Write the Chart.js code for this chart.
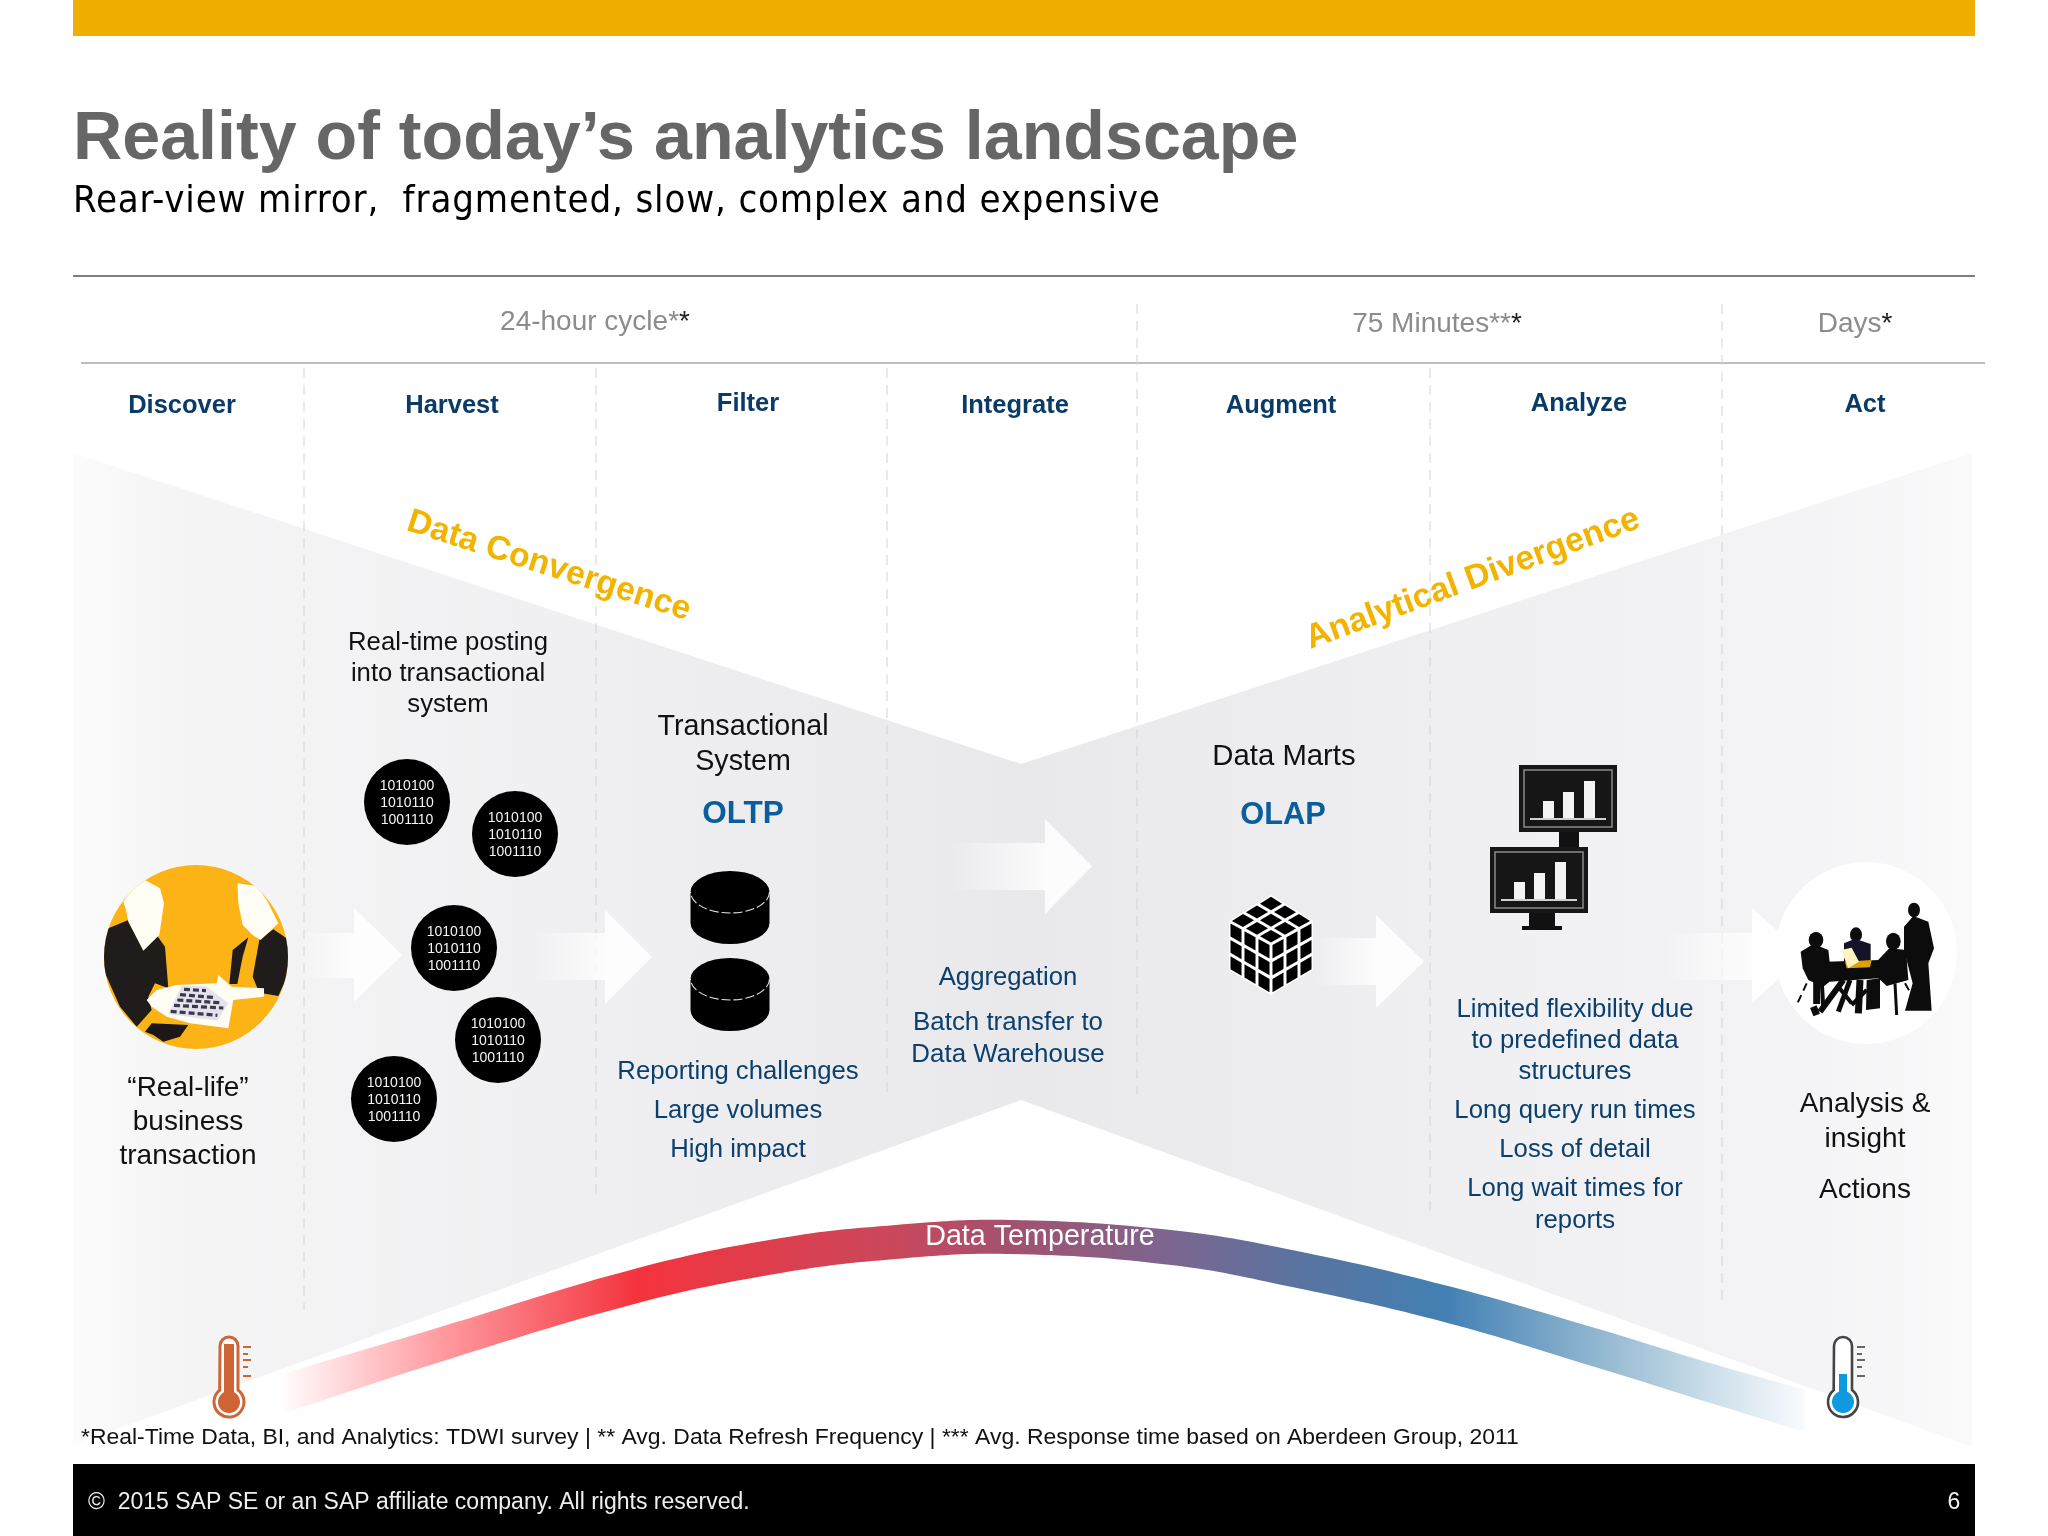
<!DOCTYPE html>
<html><head><meta charset="utf-8">
<style>html,body{margin:0;padding:0;background:#fff}canvas{display:block}</style>
<script src="https://cdn.jsdelivr.net/npm/chart.js@4/dist/chart.umd.min.js"></script>
</head><body><canvas id="c" width="2048" height="1536"></canvas>
<script>
// ---- text content ----
const titleText = "Reality of today’s analytics landscape";
const subtitleText = "Rear-view mirror,  fragmented, slow, complex and expensive";
const stageLabels = ["Discover","Harvest","Filter","Integrate","Augment","Analyze","Act"];
const binaryLines = ["1010100","1010110","1001110"];
const footnoteText = "*Real-Time Data, BI, and Analytics: TDWI survey | ** Avg. Data Refresh Frequency | *** Avg. Response time based on Aberdeen Group, 2011";
const footerText = "©  2015 SAP SE or an SAP affiliate company. All rights reserved.";
// ---- marks ----
const funnelX = [73,1021,1972];
const funnelTopY = [453,764,453];
const funnelBottomY = [1445,1100,1447];
const bandTopX = [279,437,638,781,896,1011,1171,1292,1444,1595,1717,1817];
const bandTopY = [1375,1328,1268,1238,1225,1220,1230,1250,1285,1328,1365,1393];
const bandBottomX = [279,437,638,781,896,1011,1171,1292,1444,1595,1717,1805];
const bandBottomY = [1415,1363,1303,1273,1259,1254,1265,1287,1322,1367,1405,1432];
const binaryX = [407,515,454,498,394];
const binaryY = [802,834,948,1040,1099];
const dashX = [304,596,887,1137,1430,1722];
const dashTop = [368,368,368,304,368,304];
const dashBottom = [1310,1200,1094,1094,1216,1307];

const T = (t,x,y,size,color,o={}) => Object.assign({t,x,y,size,color},o);
const NAVY="#0b3f6e", BLUE="#0a5e9c", INK="#111";
const stageAt=[[182,413],[452,413],[748,411],[1015,413],[1281,413],[1579,411],[1865,412]];
const texts=[
 T(titleText,73,159,68.2,"#666666",{b:1,a:"left"}),
 ...stageLabels.map((s,i)=>T(s,stageAt[i][0],stageAt[i][1],25.5,"#0a3a66",{b:1})),
 T("Real-time posting",448,650,25.7,INK),T("into transactional",448,681,25.7,INK),T("system",448,712,25.7,INK),
 T("Transactional",743,735,28.7,INK),T("System",743,770,28.7,INK),
 T("OLTP",743,823,31.5,BLUE,{b:1}),
 T("Data Marts",1284,765,29.3,INK),T("OLAP",1283,824,30.8,BLUE,{b:1}),
 T("Reporting challenges",738,1079,25.7,NAVY),T("Large volumes",738,1118,25.7,NAVY),T("High impact",738,1157,25.7,NAVY),
 T("Aggregation",1008,985,25.7,NAVY),T("Batch transfer to",1008,1030,25.9,NAVY),T("Data Warehouse",1008,1062,25.9,NAVY),
 T("Limited flexibility due",1575,1017,25.7,NAVY),T("to predefined data",1575,1048,25.7,NAVY),T("structures",1575,1079,25.7,NAVY),
 T("Long query run times",1575,1118,25.7,NAVY),T("Loss of detail",1575,1157,25.7,NAVY),T("Long wait times for",1575,1196,25.7,NAVY),T("reports",1575,1228,25.7,NAVY),
 T("“Real-life”",188,1096,28,INK),T("business",188,1130,28,INK),T("transaction",188,1164,28,INK),
 T("Analysis &",1865,1112,28,INK),T("insight",1865,1147,28,INK),T("Actions",1865,1198,28,INK),
 T("Data Temperature",1040,1245,28.7,"#ffffff"),
 T(footnoteText,81,1444,22.95,"#111",{a:"left"}),
 T(footerText,88,1509,23,"#eeeeee",{a:"left"}),
 T("6",1954,1509,23,"#eeeeee",{a:"center"}),
];
const tailTexts=[["24-hour cycle*","*",595,330],["75 Minutes**","*",1437,332],["Days","*",1855,332]];
const rotated=[["Data Convergence",546,575,17.8,33.7],["Analytical Divergence",1476,588,-20.2,34]];

const ORANGE="#f2b400";
const L=(data,o)=>Object.assign({type:'line',data,showLine:true,pointRadius:0,borderWidth:0,fill:false,tension:0},o);
const zip=(a,b)=>a.map((v,i)=>({x:v,y:b[i]}));
function hGrad(chart,x0,x1,stops){
  if(!chart.chartArea) return "rgba(0,0,0,0)";
  const g=chart.ctx.createLinearGradient(chart.scales.x.getPixelForValue(x0),0,chart.scales.x.getPixelForValue(x1),0);
  stops.forEach(s=>g.addColorStop(s[0],s[1]));return g;
}
const funnelStops=[[0,"#fcfcfc"],[.05,"#f5f5f6"],[.25,"#f0f0f2"],[.5,"#e9e9ec"],[.75,"#f0f0f2"],[.9,"#f3f3f5"],[1,"#fafafb"]];
const bandStops=[[0,"#ffffff"],[.103,"#ff9da2"],[.233,"#f4333d"],[.401,"#c9485c"],[.476,"#a2516f"],[.58,"#7c6690"],[.659,"#5b739f"],[.758,"#4280b3"],[.856,"#90b6d0"],[.935,"#cfe0eb"],[.985,"#f4f8fb"],[1,"#ffffff"]];

const datasets=[
 L(zip(funnelX,funnelTopY),{label:"funnel top",order:9,fill:'+1',backgroundColor:c=>hGrad(c.chart,73,1972,funnelStops)}),
 L(zip(funnelX,funnelBottomY),{label:"funnel bottom",order:10}),
 L(zip(bandTopX,bandTopY),{label:"band top",order:6,tension:.4,fill:'+1',backgroundColor:c=>hGrad(c.chart,279,1817,bandStops)}),
 L(zip(bandBottomX,bandBottomY),{label:"band bottom",order:7,tension:.4}),
 ...dashX.map((x,i)=>L([{x,y:dashTop[i]},{x,y:dashBottom[i]}],{label:"col"+i,order:5,borderWidth:1,borderColor:"#d4d4d6",borderDash:[10,7]})),
 L([{x:73,y:276},{x:1975,y:276}],{label:"rule1",order:5,borderWidth:2,borderColor:"#7f7f7f"}),
 L([{x:81,y:363},{x:1985,y:363}],{label:"rule2",order:5,borderWidth:2,borderColor:"#bdbdbd"}),
 {type:'scatter',label:"binary",data:zip(binaryX,binaryY),order:1,pointRadius:43,pointHoverRadius:43,pointStyle:'circle',backgroundColor:"#000",borderWidth:0},
];

function poly(ctx,pts,map,fill){ctx.beginPath();pts.forEach((p,i)=>{const q=map(p[0],p[1]);i?ctx.lineTo(q[0],q[1]):ctx.moveTo(q[0],q[1]);});ctx.closePath();ctx.fillStyle=fill;ctx.fill();}
function arrow(ctx,x0,base,tip,sy0,sy1,hy0,hy1){
  const g=ctx.createLinearGradient(x0,0,base,0);g.addColorStop(0,"rgba(255,255,255,0)");g.addColorStop(1,"rgba(255,255,255,.85)");
  ctx.fillStyle=g;ctx.fillRect(x0,sy0,base-x0,sy1-sy0);
  ctx.fillStyle="rgba(255,255,255,.85)";
  ctx.beginPath();ctx.moveTo(base,hy0);ctx.lineTo(tip,(hy0+hy1)/2);ctx.lineTo(base,hy1);ctx.closePath();ctx.fill();
}
function ell(ctx,x,y,rx,ry,fill){ctx.beginPath();ctx.ellipse(x,y,rx,ry,0,0,Math.PI*2);ctx.fillStyle=fill;ctx.fill();}

function yellowCircle(ctx){
  const Z=(x,y)=>[100+x/3,860+y/3];
  ctx.save();ctx.beginPath();ctx.arc(196,957,92,0,Math.PI*2);ctx.clip();
  ctx.fillStyle="#fcb316";ctx.fillRect(100,860,190,190);
  poly(ctx,[[0,300],[10,235],[25,205],[85,180],[130,270],[170,225],[195,260],[205,385],[165,370],[145,410],[155,450],[110,500],[60,440],[20,350]],Z,"#201c1c");
  poly(ctx,[[70,125],[100,85],[135,60],[180,85],[192,130],[178,225],[130,272],[85,185],[78,150]],Z,"#fffdf4");
  poly(ctx,[[458,350],[478,240],[520,208],[575,245],[575,320],[535,408],[478,398]],Z,"#201c1c");
  poly(ctx,[[388,372],[398,270],[445,232],[428,290],[412,372]],Z,"#201c1c");
  poly(ctx,[[412,70],[470,78],[500,120],[535,190],[482,240],[458,225],[428,195],[415,130]],Z,"#fffdf4");
  poly(ctx,[[140,420],[170,390],[230,375],[350,370],[355,345],[395,380],[492,385],[492,410],[400,420],[385,505],[270,490],[200,470],[155,440]],Z,"#fffdf4");
  poly(ctx,[[135,515],[155,490],[265,495],[240,530],[190,545],[160,525]],Z,"#1c1818");
  poly(ctx,[[245,378],[318,378],[385,430],[352,482],[205,462]],Z,"#e4e2ea");
  ctx.strokeStyle="#3c3850";ctx.lineWidth=3.2;ctx.setLineDash([6,3]);
  [[[252,388],[318,392]],[[240,404],[340,412]],[[232,420],[358,428]],[[222,436],[370,444]],[[212,454],[352,466]]].forEach(s=>{
    const a=Z(s[0][0],s[0][1]),b=Z(s[1][0],s[1][1]);ctx.beginPath();ctx.moveTo(a[0],a[1]);ctx.lineTo(b[0],b[1]);ctx.stroke();});
  ctx.setLineDash([]);
  ctx.restore();
}
function meeting(ctx){
  ell(ctx,1866,953,91,91,"#ffffff");
  const P=(x,y)=>[1780+x/3,880+y/3],K="#0c0c0c";
  const e=(x,y,r,ry)=>{const q=P(x,y);ell(ctx,q[0],q[1],r/3,(ry||r)/3,K);};
  e(402,90,18,22);e(108,180,22,24);e(228,164,18,22);e(340,184,22,26);
  poly(ctx,[[372,140],[400,108],[445,125],[462,205],[445,250],[455,392],[375,392],[398,310],[385,260],[372,210]],P,K);
  poly(ctx,[[62,215],[100,192],[145,210],[155,300],[130,320],[85,300],[68,265]],P,K);
  poly(ctx,[[192,190],[225,176],[272,192],[272,245],[192,245]],P,"#141428");
  poly(ctx,[[285,250],[328,205],[378,210],[385,300],[320,318],[285,285]],P,K);
  poly(ctx,[[140,245],[300,240],[295,295],[150,305]],P,K);
  poly(ctx,[[260,300],[300,295],[300,385],[258,390]],P,K);
  poly(ctx,[[195,245],[275,240],[270,262],[200,265]],P,"#e0a200");
  poly(ctx,[[183,210],[215,203],[237,245],[205,264]],P,"#fff3c0");
  ctx.strokeStyle=K;ctx.lineCap="butt";
  [[110,300,110,372,7],[100,380,110,405,7],[190,300,120,395,6],[210,300,175,395,5],[240,300,235,400,7],[345,310,350,405,3],[125,300,130,385,4],[175,320,215,370,4],[260,330,215,375,4]].forEach(s=>{
    const a=P(s[0],s[1]),b=P(s[2],s[3]);ctx.lineWidth=s[4];ctx.beginPath();ctx.moveTo(a[0],a[1]);ctx.lineTo(b[0],b[1]);ctx.stroke();});
  ctx.lineWidth=2;ctx.setLineDash([8,5]);
  [[80,310,50,375],[375,310,395,345]].forEach(s=>{const a=P(s[0],s[1]),b=P(s[2],s[3]);ctx.beginPath();ctx.moveTo(a[0],a[1]);ctx.lineTo(b[0],b[1]);ctx.stroke();});
  ctx.setLineDash([]);
}
function disk(ctx,cy){
  const cx=730,rx=39.5,ry=21,h=31;
  ctx.fillStyle="#000";ctx.beginPath();ctx.ellipse(cx,cy,rx,ry,0,Math.PI,0);ctx.lineTo(cx+rx,cy+h);ctx.ellipse(cx,cy+h,rx,ry,0,0,Math.PI);ctx.closePath();ctx.fill();
  ctx.strokeStyle="#e8e8ea";ctx.lineWidth=1.1;ctx.setLineDash([9,3]);ctx.beginPath();ctx.ellipse(cx,cy,rx,ry,0,0,Math.PI);ctx.stroke();ctx.setLineDash([]);
}
function cube(ctx){
  const top=[1271,895],r=[1313,921],c=[1271,944],l=[1229,921],rb=[1313,970],b=[1271,995],lb=[1229,970];
  poly(ctx,[top,r,rb,b,lb,l],(x,y)=>[x,y],"#ffffff");
  const face=(a,bb,d,e)=>{
    for(let i=0;i<3;i++)for(let j=0;j<3;j++){
      const pt=(u,v)=>{const tx=a[0]+(bb[0]-a[0])*u,ty=a[1]+(bb[1]-a[1])*u,qx=e[0]+(d[0]-e[0])*u,qy=e[1]+(d[1]-e[1])*u;return [tx+(qx-tx)*v,ty+(qy-ty)*v];};
      const g=.035,u0=i/3+g,u1=(i+1)/3-g,v0=j/3+g,v1=(j+1)/3-g;
      poly(ctx,[pt(u0,v0),pt(u1,v0),pt(u1,v1),pt(u0,v1)],(x,y)=>[x,y],"#000");
    }};
  face(top,r,c,l);face(l,c,b,lb);face(c,r,rb,b);
}
function monitor(ctx,x,y,w,h,sx,sw,sh,bars,base){
  ctx.fillStyle="#111";ctx.fillRect(sx,y+h,sw,sh);
  if(base){ctx.fillRect(sx-7,y+h+sh-4,sw+14,4);}
  ctx.fillStyle="#161616";ctx.fillRect(x,y,w,h);
  ctx.strokeStyle="#8a8a8a";ctx.lineWidth=1.5;ctx.strokeRect(x+5,y+5,w-10,h-10);
  ctx.fillStyle="#f4f4f4";
  bars.forEach(b=>ctx.fillRect(x+b[0],y+h-14-b[1],11,b[1]));
  ctx.fillStyle="#d0d0d0";ctx.fillRect(x+11,y+h-14,w-22,2);
}
function thermo(ctx,cx,outline,inner,fill,hot){
  ctx.lineWidth=hot?3:2.6;ctx.strokeStyle=outline;ctx.fillStyle="#fff";
  ctx.beginPath();ctx.moveTo(cx-9,1346);ctx.arc(cx,1346,9,Math.PI,0);ctx.lineTo(cx+9,1390);ctx.arc(cx,1402,15,-0.9,Math.PI+0.9);ctx.closePath();
  ctx.fill();ctx.stroke();
  ctx.fillStyle=fill;
  if(hot){ctx.fillRect(cx-5,1344,10,54);ell(ctx,cx,1402,11,11,fill);}
  else{ctx.fillRect(cx-4,1374,8,26);ell(ctx,cx,1402,11,11,fill);}
  ctx.fillStyle=hot?"#cf6436":"#666";
  [1346,1353,1359,1366,1375].forEach((y,i)=>ctx.fillRect(cx+14,y,i%2?5:8,2));
}
const art={id:'art',afterDatasetsDraw(chart){
  const ctx=chart.ctx;ctx.save();
  ctx.fillStyle="#efae00";ctx.fillRect(73,0,1902,36);
  ctx.fillStyle="#000";ctx.fillRect(73,1464,1902,72);
  arrow(ctx,300,354,402,933,978,908,1002);
  arrow(ctx,534,605,652,933,980,910,1004);
  arrow(ctx,950,1045,1092,843,890,819,914);
  arrow(ctx,1313,1376,1424,938,985,915,1008);
  arrow(ctx,1665,1752,1805,933,980,908,1003);
  yellowCircle(ctx);meeting(ctx);disk(ctx,892);disk(ctx,979);cube(ctx);
  monitor(ctx,1519,765,98,67,1559,20,15,[[24,17],[44,26],[65,37]],false);
  monitor(ctx,1490,847,98,66,1529,26,17,[[24,17],[44,26],[65,37]],true);
  thermo(ctx,229,"#cf6436","#fff","#cf6436",true);
  thermo(ctx,1843,"#444","#fff","#0f9ae0",false);
  ctx.textBaseline="alphabetic";
  const F=(s,b)=>(b?"bold ":"")+s+"px 'Liberation Sans', Arial, sans-serif";
  ctx.textAlign="left";ctx.fillStyle="#000";ctx.letterSpacing="0.85px";ctx.font="38px 'DejaVu Sans Condensed','DejaVu Sans'";ctx.fillText(subtitleText,73,212);ctx.letterSpacing="0px";
  texts.forEach(o=>{ctx.font=F(o.size,o.b);ctx.textAlign=o.a||"center";ctx.fillStyle=o.color;ctx.fillText(o.t,o.x,o.y);});
  ctx.textAlign="left";
  tailTexts.forEach(r=>{ctx.font=F(28);const w=ctx.measureText(r[0]).width,w2=ctx.measureText(r[1]).width,x0=r[2]-(w+w2)/2;
    ctx.fillStyle="#8c8c8c";ctx.fillText(r[0],x0,r[3]);ctx.fillStyle="#222";ctx.fillText(r[1],x0+w,r[3]);});
  ctx.textAlign="center";ctx.fillStyle="#f5f5f5";ctx.font=F(14);
  binaryX.forEach((x,i)=>binaryLines.forEach((s,j)=>ctx.fillText(s,x,binaryY[i]-12+17*j)));
  rotated.forEach(r=>{ctx.save();ctx.translate(r[1],r[2]);ctx.rotate(r[3]*Math.PI/180);ctx.font=F(r[4],1);ctx.fillStyle=ORANGE;ctx.textAlign="center";ctx.fillText(r[0],0,0);ctx.restore();});
  ctx.restore();
}};
new Chart(document.getElementById('c'),{type:'scatter',data:{datasets},plugins:[art],options:{
  responsive:false,animation:false,devicePixelRatio:1,layout:{padding:0,autoPadding:false},
  plugins:{legend:{display:false},tooltip:{enabled:false},title:{display:false}},events:[],
  scales:{x:{type:'linear',min:0,max:2048,display:false},y:{type:'linear',min:0,max:1536,reverse:true,display:false}}
}});
</script></body></html>
